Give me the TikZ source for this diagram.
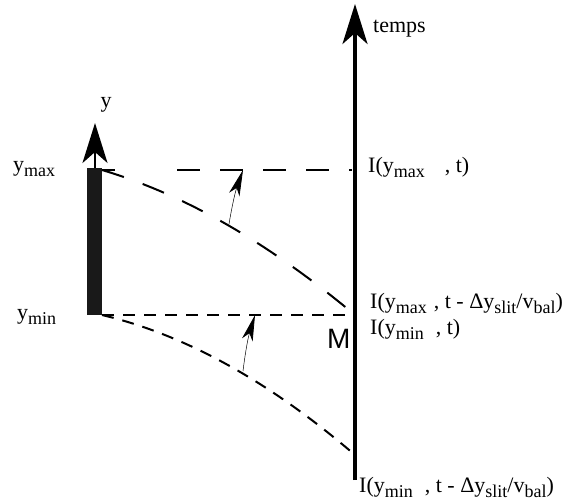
\documentclass[tikz,border=0pt]{standalone}
\usepackage{fontspec}
\setmainfont{Liberation Serif}
\newfontfamily\msans{Liberation Sans}
\usetikzlibrary{arrows.meta}
\newcommand\sbs[1]{\raisebox{-5pt}{\fontsize{18}{18}\selectfont #1}}
\begin{document}
\begin{tikzpicture}[x=1pt,y=-1pt,
  lbl/.style={inner sep=0pt, anchor=base west, font=\fontsize{22}{26}\selectfont},
  bigaxis/.style={line width=3.4pt, -{Stealth[length=40pt,width=25pt,inset=11pt]}},
  smallaxis/.style={line width=2.4pt, -{Stealth[length=40pt,width=25pt,inset=11pt]}},
  longdash/.style={line width=2pt, dash pattern=on 23pt off 20pt},
  shortdash/.style={line width=2pt, dash pattern=on 12pt off 9pt},
  thinarrow/.style={line width=0.5pt, -{Stealth[length=26pt,width=11pt,inset=7pt,line width=0.8pt]}}]
\useasboundingbox (0,0) rectangle (568,500);
% coordinates
\coordinate (tb) at (355,480);
\coordinate (tt) at (355,4);
\coordinate (yb) at (95,168);
\coordinate (yt) at (95,123);
\coordinate (pmaxL) at (102,170);
\coordinate (pmaxR) at (352,170);
\coordinate (pminL) at (102,315);
\coordinate (M) at (355,315);
\coordinate (pend) at (355,455);
\coordinate (a1t) at (229,224);
\coordinate (a1h) at (243,170);
\coordinate (a2t) at (243,371);
\coordinate (a2h) at (255,315);
% bar
\fill[black!90] (87,168) rectangle (102,315);
% axes
\draw[bigaxis] (tb) -- (tt);
\draw[smallaxis] (yb) -- (yt);
% horizontal dashed lines
\draw[line width=2pt, dash pattern=on 13pt off 62pt on 23pt off 20pt on 23pt off 20pt on 23pt off 20pt on 23pt off 20pt on 23pt off 20pt] (pmaxL) -- (pmaxR);
\draw[shortdash] (pminL) -- (M);
% curves
\draw[longdash] (pmaxL) .. controls (186,195) and (270,244) .. (M);
\draw[shortdash] (pminL) .. controls (186,335) and (270,382) .. (pend);
% thin arrows
\draw[thinarrow] (a1t) to[bend left=5] (a1h);
\draw[thinarrow] (a2t) to[bend left=5] (a2h);
% labels
\node[lbl] (ltemps) at (373,33) {temps};
\node[lbl, anchor=base] (ly) at (106,108) {y};
\node[lbl] (lymax) at (13,172) {y\sbs{max}};
\node[lbl] (lymin) at (17,319) {y\sbs{min}};
\node[lbl] (l1) at (368,173) {I(y\sbs{max}\hspace{20pt}, t)};
\node[lbl] (l2) at (370,308) {I(y\sbs{max}\hspace{7pt}, t - Δy\sbs{slit}/v\sbs{bal})};
\node[lbl] (l3) at (370,334) {I(y\sbs{min}\hspace{12pt}, t)};
\node[lbl] (l4) at (359,492) {I(y\sbs{min}\hspace{12pt}, t - Δy\sbs{slit}/v\sbs{bal})};
\node[inner sep=0pt, anchor=base west, font=\msans\fontsize{28}{30}\selectfont] (lM) at (327,348) {M};
\end{tikzpicture}
\end{document}
